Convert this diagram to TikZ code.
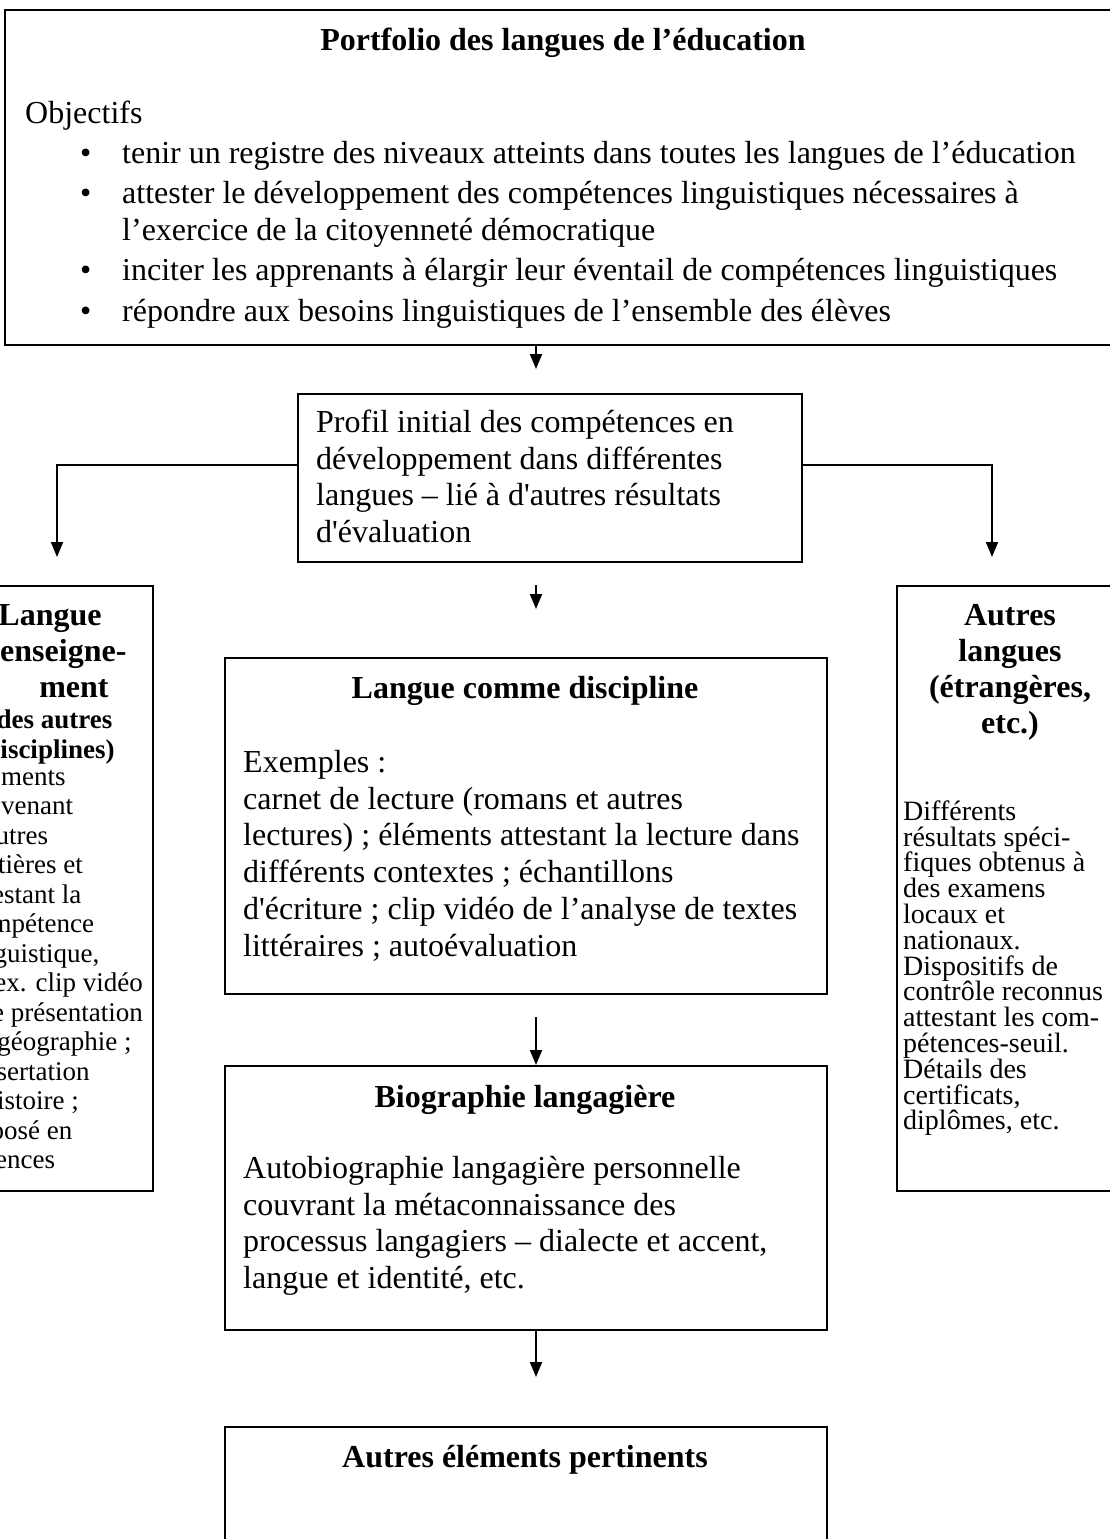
\documentclass[tikz,border=0pt]{standalone}
\usepackage{fontspec}
\setmainfont{Liberation Serif}
\usetikzlibrary{arrows.meta}
\newcommand\myMain{\fontsize{32}{36.8}\selectfont}
\newcommand\myMainB{\fontsize{32}{36.8}\selectfont\bfseries}
\newcommand\mySideL{\fontsize{27}{29.5}\selectfont}
\newcommand\mySideR{\fontsize{28}{25.8}\selectfont\lineskiplimit=-100pt\relax}
\newcommand\mySideT{\fontsize{32}{36.2}\selectfont\bfseries}
\newcommand\mySideS{\fontsize{27}{30}\selectfont\bfseries}
\newcommand\topst[1]{\rule{0pt}{#1}}
\newcommand\sq{\textquotesingle}
\begin{document}
\begin{tikzpicture}[x=1pt,y=-1pt,
  boxnode/.style={draw, line width=1.8pt, inner sep=0pt, anchor=north west},
  txt/.style={inner sep=0pt, align=left, anchor=north west},
  ctxt/.style={inner sep=0pt, align=center, anchor=north},
  ttl/.style={inner sep=0pt, anchor=base, font=\myMainB},
  arr/.style={line width=1.8pt, -{Triangle[length=15pt,width=12pt]}}]
\useasboundingbox (0,0) rectangle (1110,1539);
\clip (0,0) rectangle (1110,1539);

% boxes
\node[boxnode, minimum width=1122pt, minimum height=335pt] (top) at (4,9) {};
\node[boxnode, minimum width=504pt, minimum height=168pt] (profil) at (297,393) {};
\node[boxnode, minimum width=194pt, minimum height=605pt] (left) at (-42,585) {};
\node[boxnode, minimum width=230pt, minimum height=605pt] (right) at (896,585) {};
\node[boxnode, minimum width=602pt, minimum height=336pt] (disc) at (224,657) {};
\node[boxnode, minimum width=602pt, minimum height=264pt] (bio) at (224,1065) {};
\node[boxnode, minimum width=602pt, minimum height=200pt] (autres) at (224,1426) {};

% top box text
\node[ttl] (toptitle) at (563,50) {Portfolio des langues de l’éducation};
\node[txt, font=\myMain] (objectifs) at (25,92.6) {\topst{30.4pt}Objectifs\\[3.5pt]
\hspace*{55pt}\makebox[42pt][l]{•}tenir un registre des niveaux atteints dans toutes les langues de l’éducation\\[3.5pt]
\hspace*{55pt}\makebox[42pt][l]{•}attester le développement des compétences linguistiques nécessaires à\\
\hspace*{97pt}l’exercice de la citoyenneté démocratique\\[3.5pt]
\hspace*{55pt}\makebox[42pt][l]{•}inciter les apprenants à élargir leur éventail de compétences linguistiques\\[3.5pt]
\hspace*{55pt}\makebox[42pt][l]{•}répondre aux besoins linguistiques de l’ensemble des élèves};

% profil text
\node[txt, font=\myMain] (proftxt) at (316,401.6) {\topst{30.4pt}Profil initial des compétences en\\
développement dans différentes\\
langues – lié à d\sq autres résultats\\
d\sq évaluation};

% left box
\node[ctxt, font=\mySideT] (lt1) at (50,594.6) {\topst{30.4pt}Langue\\d\sq enseigne-\\\hspace*{48pt}ment};
\node[ctxt, font=\mySideS] (lt2) at (50,702.4) {\topst{25.6pt}(des autres\\disciplines)};
\node[txt, font=\mySideL] (lbody) at (-35,759.4) {\topst{25.6pt}Éléments\\
provenant\\
d\sq autres\\
matières et\\
attestant la\\
compétence\\
linguistique,\\
p. ex. clip vidéo\\
une présentation\\
en géographie ;\\
dissertation\\
d\sq histoire ;\\
exposé en\\
sciences};

% right box
\node[ctxt, font=\mySideT] (rt) at (1010,594.6) {\topst{30.4pt}Autres\\langues\\(étrangères,\\etc.)};
\node[txt, font=\mySideR] (rbody) at (903,793.4) {\topst{26.6pt}Différents\\
résultats spéci-\\
fiques obtenus à\\
des examens\\
locaux et\\
nationaux.\\
Dispositifs de\\
contrôle reconnus\\
attestant les com-\\
pétences-seuil.\\
Détails des\\
certificats,\\
diplômes, etc.};

% discipline
\node[ttl] (disctitle) at (525,698) {Langue comme discipline};
\node[txt, font=\myMain] (discbody) at (243,741.6) {\topst{30.4pt}Exemples :\\
carnet de lecture (romans et autres\\
lectures) ; éléments attestant la lecture dans\\
différents contextes ; échantillons\\
d\sq écriture ; clip vidéo de l’analyse de textes\\
littéraires ; autoévaluation};

% biographie
\node[ttl] (biotitle) at (525,1107) {Biographie langagière};
\node[txt, font=\myMain] (biobody) at (243,1147.6) {\topst{30.4pt}Autobiographie langagière personnelle\\
couvrant la métaconnaissance des\\
processus langagiers – dialecte et accent,\\
langue et identité, etc.};

% autres
\node[ttl] (autrestitle) at (525,1467) {Autres éléments pertinents};

% connectors
\coordinate (a1) at (536,369);
\draw[arr] (top.south -| a1) -- (a1);
\coordinate (lcorner) at (57,465);
\coordinate (ltip) at (57,557);
\draw[arr] (profil.west |- lcorner) -- (lcorner) -- (ltip);
\coordinate (rcorner) at (992,465);
\coordinate (rtip) at (992,557);
\draw[arr] (profil.east |- rcorner) -- (rcorner) -- (rtip);
\coordinate (m1s) at (536,585);
\coordinate (m1e) at (536,609);
\draw[arr] (m1s) -- (m1e);
\coordinate (m2s) at (536,1017);
\draw[arr] (m2s) -- (m2s |- bio.north);
\coordinate (m3e) at (536,1377);
\draw[arr] (bio.south -| m3e) -- (m3e);
\end{tikzpicture}
\end{document}
